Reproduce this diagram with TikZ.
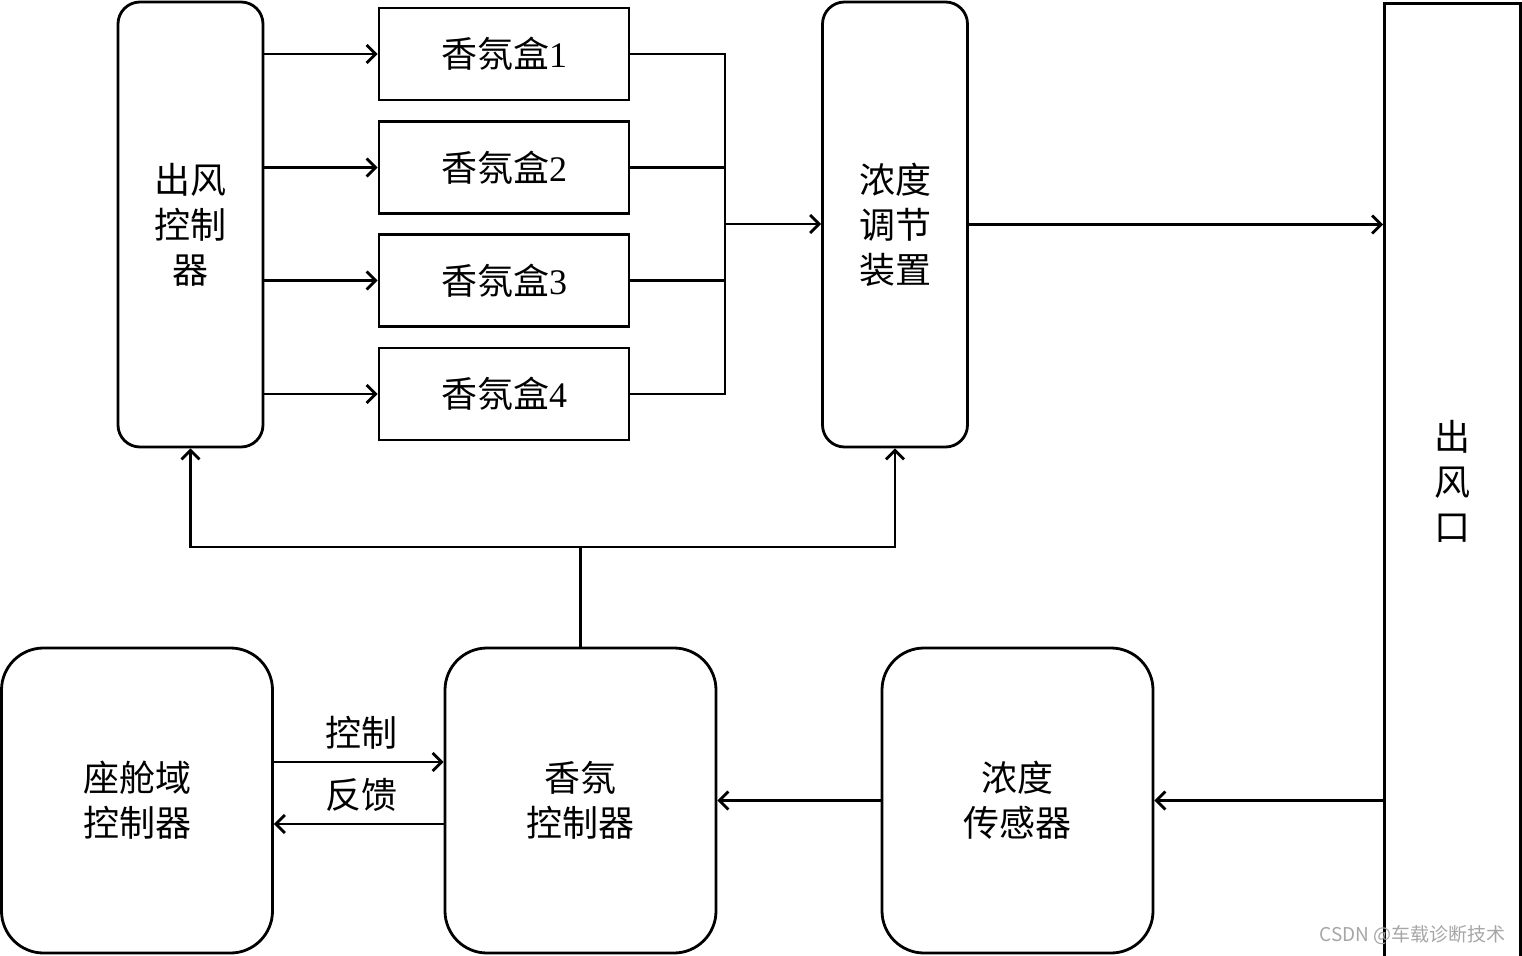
\documentclass[tikz,border=0pt]{standalone}
\usepackage{fontspec}
\setmainfont{Liberation Serif}
\newfontfamily\cjk{Noto Sans CJK SC}
\usetikzlibrary{arrows.meta}
\tikzset{
  line/.style={line width=2.8pt},
  arr/.style={line width=2.8pt,-{Straight Barb[length=9pt,width=18pt,line width=2.8pt]}},
  lbl/.style={font=\fontsize{36}{45}\selectfont\cjk, align=center, inner sep=0pt},
  tallbox/.style={draw,line width=2.8pt,rounded corners=22pt,minimum width=145pt,minimum height=445pt,lbl},
  smallbox/.style={draw,line width=2.8pt,minimum width=250pt,minimum height=92pt,lbl},
  bigbox/.style={draw,line width=2.8pt,rounded corners=42pt,minimum width=271pt,minimum height=305pt,lbl},
}
\begin{document}
\begin{tikzpicture}[x=1pt,y=-1pt]
\useasboundingbox (0,0) rectangle (1522,955);
% top row
\node[tallbox] (ofc) at (190.5,224.5) {出风\\控制\\器};
\node[smallbox] (b1) at (504,54) {香氛盒{\rmfamily 1}};
\node[smallbox] (b2) at (504,167.5) {香氛盒{\rmfamily 2}};
\node[smallbox] (b3) at (504,280.5) {香氛盒{\rmfamily 3}};
\node[smallbox] (b4) at (504,394) {香氛盒{\rmfamily 4}};
\node[tallbox] (nd) at (895,224.5) {浓度\\调节\\装置};
\node[draw,line width=2.8pt,minimum width=136pt,minimum height=958pt,anchor=north west] (out) at (1383,2) {};
\node[lbl] (outl) at (1452,481) {出\\风\\口};
% bottom row
\node[bigbox] (ck) at (137,800.5) {座舱域\\控制器};
\node[bigbox] (xc) at (580.5,800.5) {香氛\\控制器};
\node[bigbox] (sn) at (1017.5,800.5) {浓度\\传感器};
% arrows to boxes
\foreach \b in {b1,b2,b3,b4} {
  \draw[arr] (ofc.east |- \b.west) -- (\b.west);
}
% merge
\coordinate (m) at (725,224);
\draw[line] (b1.east) -- (b1.east -| m) -- (b4.east -| m) -- (b4.east);
\draw[line] (b2.east) -- (b2.east -| m);
\draw[line] (b3.east) -- (b3.east -| m);
\draw[arr] (m) -- (nd.west |- m);
\draw[arr] (nd.east) -- (out.west |- nd.east);
% control tree
\coordinate (j) at (580.5,547);
\draw[line] (xc.north) -- (j);
\draw[arr] (j) -| (ofc.south);
\draw[arr] (j) -| (nd.south);
% bottom links
\coordinate (c1) at (0,762);
\coordinate (c2) at (0,824);
\draw[arr] (ck.east |- c1) -- (xc.west |- c1);
\draw[arr] (xc.west |- c2) -- (ck.east |- c2);
\node[lbl] (lk) at (361,733) {控制};
\node[lbl] (lf) at (361,795) {反馈};
\draw[arr] (sn.west) -- (xc.east);
\draw[arr] (out.west |- sn.east) -- (sn.east);
% watermark
\node[anchor=east,inner sep=0pt,text=gray!70,font=\fontsize{19}{22}\selectfont\cjk] (wm) at (1506,935) {CSDN @车载诊断技术};
\end{tikzpicture}
\end{document}
